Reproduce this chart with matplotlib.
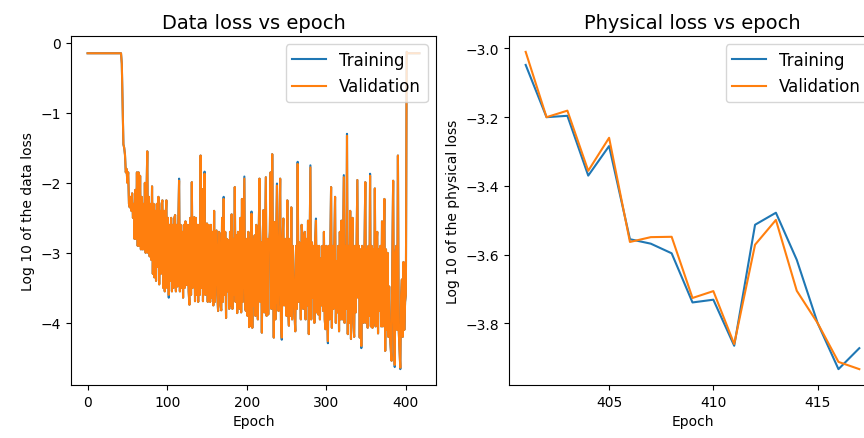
import numpy as np
import matplotlib.pyplot as plt

# log10 della data loss (validazione), un valore per epoca 0..417
val_data = [
    -0.15, -0.15, -0.15, -0.15, -0.15, -0.15, -0.15, -0.15, -0.15, -0.15,
    -0.15, -0.15, -0.15, -0.15, -0.15, -0.15, -0.15, -0.15, -0.15, -0.15,
    -0.15, -0.15, -0.15, -0.15, -0.15, -0.15, -0.15, -0.15, -0.15, -0.15,
    -0.15, -0.15, -0.15, -0.15, -0.15, -0.15, -0.15, -0.15, -0.15, -0.15,
    -0.15, -0.15, -0.15, -0.30, -0.90, -1.45, -1.50, -1.60, -1.85, -1.80,
    -2.00, -1.85, -2.30, -2.35, -2.20, -2.40, -2.15, -2.50, -2.30, -2.80,
    -2.10, -2.80, -1.85, -2.90, -1.85, -2.90, -1.90, -2.95, -2.20, -2.95,
    -2.30, -2.95, -2.00, -3.00, -2.20, -1.55, -3.00, -2.20, -3.05, -2.30,
    -3.10, -2.05, -3.30, -2.30, -3.35, -2.40, -3.40, -2.30, -3.20, -2.20,
    -3.45, -2.40, -3.30, -2.30, -2.25, -3.50, -2.40, -3.55, -2.50, -2.25,
    -3.50, -2.50, -3.60, -2.60, -3.40, -2.50, -3.55, -2.60, -3.50, -2.50,
    -2.46, -3.55, -2.60, -3.48, -2.55, -1.97, -3.55, -2.60, -3.50, -2.70,
    -3.64, -2.60, -3.50, -2.55, -3.27, -3.46, -2.60, -3.55, -3.74, -2.50,
    -3.60, -1.99, -3.50, -2.70, -2.49, -3.69, -2.50, -3.60, -2.60, -3.70,
    -2.60, -3.60, -1.61, -3.50, -2.09, -3.69, -2.60, -1.87, -3.60, -2.60,
    -2.58, -3.70, -2.60, -2.93, -3.70, -2.60, -3.64, -2.70, -3.75, -2.40,
    -3.70, -2.70, -2.68, -3.60, -3.83, -2.70, -2.72, -3.75, -3.82, -2.50,
    -3.70, -2.23, -3.60, -2.70, -3.93, -2.80, -3.55, -2.82, -3.80, -2.70,
    -3.75, -2.45, -3.80, -2.80, -3.60, -2.06, -3.70, -2.75, -3.86, -2.70,
    -2.75, -3.80, -2.50, -3.85, -2.23, -3.70, -2.80, -1.94, -3.80, -3.83,
    -2.80, -3.90, -2.70, -4.06, -2.80, -4.04, -2.44, -4.07, -2.80, -3.75,
    -2.75, -3.90, -2.60, -3.36, -3.95, -2.80, -1.94, -3.70, -2.85, -4.14,
    -2.80, -2.39, -3.85, -2.90, -1.92, -3.90, -2.80, -3.88, -2.90, -2.70,
    -1.85, -3.80, -1.59, -3.00, -4.21, -2.56, -3.95, -2.80, -2.04, -3.70,
    -3.83, -2.80, -1.94, -3.95, -4.21, -2.80, -2.51, -3.75, -3.69, -2.80,
    -3.90, -2.25, -3.80, -4.04, -2.80, -3.90, -2.35, -3.95, -2.90, -3.36,
    -3.85, -4.12, -2.90, -3.80, -1.73, -3.70, -2.85, -3.36, -3.95, -2.60,
    -2.77, -3.80, -2.90, -2.70, -3.95, -2.80, -3.75, -2.54, -4.16, -2.90,
    -1.78, -3.95, -2.85, -3.64, -2.90, -4.00, -2.80, -2.54, -3.85, -2.90,
    -3.88, -2.90, -3.95, -3.08, -3.75, -2.90, -3.83, -2.70, -3.95, -4.09,
    -2.90, -3.85, -4.26, -2.90, -3.95, -2.90, -2.06, -4.07, -2.90, -3.80,
    -2.90, -2.20, -4.00, -3.12, -3.85, -2.90, -4.12, -2.70, -3.95, -2.54,
    -3.95, -2.90, -1.92, -4.00, -2.90, -3.80, -1.33, -4.16, -2.90, -4.00,
    -2.40, -4.23, -2.90, -2.50, -4.00, -4.20, -2.90, -3.85, -2.95, -1.96,
    -3.64, -2.90, -4.21, -2.95, -4.33, -2.90, -3.12, -4.00, -2.90, -1.99,
    -4.00, -2.95, -4.07, -2.90, -3.90, -1.90, -4.05, -2.90, -4.07, -2.95,
    -4.00, -2.08, -4.05, -2.90, -2.70, -4.15, -2.95, -3.83, -2.90, -4.05,
    -2.55, -4.05, -2.95, -2.23, -4.40, -2.95, -4.10, -3.00, -4.20, -3.48,
    -4.20, -4.38, -4.54, -3.00, -1.97, -4.00, -4.60, -3.00, -2.90, -4.10,
    -1.61, -4.10, -4.40, -4.64, -3.60, -3.38, -4.20, -3.13, -4.10, -3.70,
    -3.60, -0.13, -0.15, -0.15, -0.15, -0.15, -0.15, -0.15, -0.15, -0.15,
    -0.15, -0.15, -0.15, -0.15, -0.15, -0.15, -0.15, -0.15,
]

# il training coincide quasi ovunque, tranne su alcuni picchi
train_diff = {
    102: -3.64, 115: -1.94, 147: -1.84, 171: -2.20, 197: -1.91,
    206: -2.41, 238: -2.01, 244: -4.24, 264: -1.70, 280: -1.75,
    287: -2.51, 302: -4.29, 322: -1.89, 326: -1.30, 344: -4.36,
    355: -1.87, 386: -4.63, 393: -4.66,
}
train_data = list(val_data)
for ep, v in train_diff.items():
    train_data[ep] = v

# log10 della physical loss, epoche 401..417
phys_epochs = list(range(401, 418))
train_phys = [-3.048, -3.200, -3.196, -3.370, -3.284, -3.555, -3.568, -3.596, -3.739,
              -3.731, -3.865, -3.513, -3.478, -3.615, -3.799, -3.933, -3.872]
val_phys = [-3.010, -3.200, -3.181, -3.356, -3.260, -3.563, -3.549, -3.548, -3.726,
            -3.706, -3.860, -3.571, -3.499, -3.705, -3.799, -3.912, -3.933]

epochs = np.arange(len(val_data))

fig = plt.figure(figsize=(8.64, 4.39), dpi=100)

ax1 = fig.add_axes([71 / 864, 53 / 439, 365 / 864, 349 / 439])
ax1.plot(epochs, train_data, label='Training')
ax1.plot(epochs, val_data, label='Validation')
ax1.set_title('Data loss vs epoch', fontsize=14)
ax1.set_xlabel('Epoch')
ax1.set_ylabel('Log 10 of the data loss')
ax1.set_xticks([0, 100, 200, 300, 400])
ax1.set_yticks([0, -1, -2, -3, -4])
ax1.legend(loc='upper right', fontsize=12)

ax2 = fig.add_axes([509 / 864, 53 / 439, 367 / 864, 349 / 439])
ax2.plot(phys_epochs, train_phys, label='Training')
ax2.plot(phys_epochs, val_phys, label='Validation')
ax2.set_title('Physical loss vs epoch', fontsize=14)
ax2.set_xlabel('Epoch')
ax2.set_ylabel('Log 10 of the physical loss')
ax2.set_xticks([405, 410, 415])
ax2.legend(loc='upper right', fontsize=12)

fig.savefig('out.png')
